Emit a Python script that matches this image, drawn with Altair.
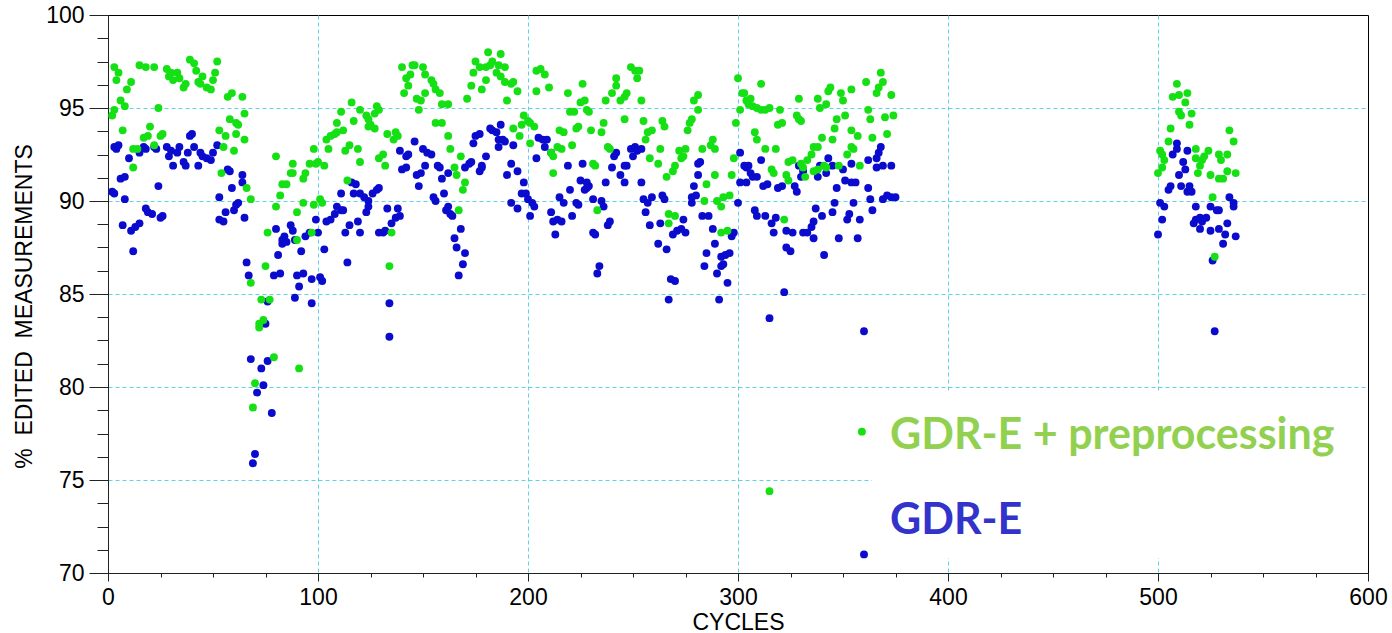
import altair as alt
import pandas as pd

series_names = ["GDR-E + preprocessing", "GDR-E"]

green_points = [
    (2, 94.6), (3, 94.9), (3, 97.2), (4, 96.5), (5, 96.9), (6, 95.4), (7, 93.8), (8, 95.1), (9, 96.0), (11, 96.4),
    (12, 92.8), (12, 91.8), (14, 92.8), (15, 97.3), (17, 93.4), (18, 97.2), (19, 93.5), (20, 94.0), (22, 93.0), (22, 97.2),
    (24, 95.0), (25, 93.5), (26, 93.6), (28, 97.1), (29, 96.7), (30, 96.9), (31, 96.5), (33, 96.9), (34, 96.6), (36, 96.1),
    (37, 96.3), (39, 97.6), (41, 97.4), (42, 97.0), (43, 96.4), (44, 96.3), (45, 96.7), (47, 96.1), (49, 96.0), (50, 96.5),
    (51, 96.9), (52, 97.5), (53, 93.8), (54, 91.5), (55, 92.9), (56, 93.5), (57, 95.6), (58, 94.4), (59, 95.8), (60, 92.7),
    (61, 94.2), (61, 93.6), (62, 94.1), (64, 95.6), (65, 94.7), (65, 93.3), (66, 90.7), (68, 90.1), (68, 85.6), (69, 78.9),
    (70, 80.2), (72, 83.2), (72, 83.4), (73, 84.7), (74, 83.6), (75, 86.5), (76, 88.3), (77, 84.7), (79, 81.6), (80, 92.4),
    (80, 89.7), (82, 90.3), (83, 90.9), (85, 90.9), (87, 91.5), (88, 92.0), (88, 91.5), (90, 87.9), (90, 89.4), (91, 81.0),
    (93, 91.2), (93, 89.9), (94, 91.5), (96, 92.0), (97, 88.3), (98, 92.8), (98, 89.8), (99, 92.0), (100, 92.1), (101, 90.1),
    (102, 89.9), (103, 91.9), (104, 93.3), (105, 92.8), (106, 93.5), (108, 93.6), (109, 94.2), (109, 93.7), (111, 94.8), (112, 93.8),
    (113, 92.7), (114, 91.1), (115, 93.0), (116, 95.3), (117, 94.3), (119, 92.8), (120, 92.1), (120, 94.9), (123, 94.6), (124, 94.0),
    (124, 94.4), (125, 94.1), (127, 93.9), (127, 94.7), (128, 95.1), (129, 94.9), (129, 92.3), (131, 92.5), (132, 91.9), (133, 93.6),
    (134, 86.5), (135, 88.3), (136, 93.3), (137, 93.7), (138, 93.5), (140, 97.2), (141, 95.8), (142, 96.6), (143, 96.2), (144, 96.8),
    (145, 97.3), (146, 97.3), (147, 95.5), (148, 94.9), (149, 95.4), (150, 97.2), (151, 96.8), (151, 95.8), (154, 96.5), (155, 96.3),
    (156, 96.0), (156, 94.2), (158, 95.8), (159, 95.2), (159, 94.2), (162, 95.2), (162, 93.5), (163, 92.8), (165, 91.8), (166, 91.4),
    (167, 89.5), (168, 92.4), (169, 90.6), (170, 91.0), (171, 95.5), (173, 96.2), (174, 96.9), (175, 97.5), (177, 97.2), (178, 96.0),
    (180, 96.5), (180, 97.2), (181, 98.0), (182, 97.3), (183, 97.5), (185, 96.9), (186, 97.3), (187, 97.9), (187, 96.7), (189, 97.2),
    (189, 96.4), (190, 95.4), (192, 96.3), (193, 96.4), (195, 95.9), (193, 93.9), (196, 93.5), (197, 94.1), (198, 94.6), (200, 94.3),
    (201, 94.2), (201, 93.1), (203, 94.0), (204, 97.0), (204, 95.9), (206, 97.1), (208, 96.8), (210, 96.1), (211, 92.6), (212, 92.4),
    (212, 91.5), (214, 92.9), (215, 93.8), (216, 92.8), (217, 93.7), (219, 95.8), (220, 94.8), (221, 93.0), (222, 94.8), (223, 93.9),
    (224, 94.0), (225, 95.3), (226, 96.3), (227, 95.4), (228, 94.9), (229, 94.8), (230, 93.8), (231, 92.0), (232, 91.9), (233, 89.5),
    (235, 93.7), (236, 94.2), (237, 95.4), (238, 92.9), (239, 92.8), (240, 95.8), (242, 96.2), (242, 96.6), (244, 95.4), (246, 95.6),
    (246, 94.4), (247, 95.8), (249, 97.2), (251, 97.0), (252, 96.6), (253, 97.0), (254, 95.4), (255, 94.3), (256, 93.3), (257, 93.7),
    (258, 92.3), (259, 93.8), (262, 92.0), (263, 92.8), (264, 94.3), (265, 94.0), (266, 91.3), (267, 89.3), (267, 88.8), (269, 91.6),
    (270, 89.2), (270, 91.9), (272, 92.7), (273, 92.3), (274, 92.4), (275, 92.8), (276, 93.8), (277, 94.2), (278, 94.4), (279, 95.4),
    (281, 95.7), (281, 94.9), (283, 92.8), (284, 90.0), (285, 90.9), (287, 93.0), (288, 93.3), (289, 92.8), (289, 91.4), (290, 90.0),
    (292, 89.7), (292, 88.3), (293, 90.2), (295, 88.4), (296, 90.3), (297, 91.4), (298, 92.3), (299, 94.2), (300, 96.6), (301, 94.9),
    (302, 95.8), (303, 95.8), (304, 95.4), (305, 95.2), (306, 95.5), (307, 95.1), (308, 93.7), (309, 93.3), (309, 95.0), (311, 94.9),
    (311, 96.3), (313, 94.9), (313, 92.8), (315, 95.0), (315, 74.4), (316, 91.7), (317, 91.5), (318, 92.8), (319, 94.1), (320, 94.9),
    (321, 94.2), (322, 89.0), (323, 91.4), (324, 91.1), (324, 92.1), (326, 92.2), (328, 94.6), (329, 94.4), (329, 95.5), (330, 94.3),
    (330, 92.0), (331, 91.8), (332, 91.3), (333, 92.2), (335, 92.5), (336, 92.9), (336, 91.6), (338, 92.9), (338, 91.7), (338, 95.5),
    (339, 95.0), (340, 93.4), (341, 91.9), (342, 91.8), (342, 95.2), (343, 95.9), (344, 96.1), (345, 93.3), (346, 93.9), (347, 94.4),
    (348, 91.9), (349, 95.8), (350, 95.4), (351, 94.6), (352, 92.5), (354, 92.9), (354, 93.8), (354, 96.0), (355, 92.8), (357, 93.5),
    (358, 91.9), (359, 77.6), (361, 96.4), (362, 94.9), (363, 94.4), (364, 93.4), (366, 95.8), (367, 96.1), (368, 96.9), (369, 96.4),
    (370, 94.5), (371, 93.6), (373, 95.7), (374, 94.6),
    (500, 91.5), (501, 92.7), (502, 91.8), (502, 92.5), (503, 92.2), (505, 93.2), (506, 93.9), (507, 95.6), (509, 96.3), (510, 95.7),
    (510, 94.8), (511, 94.6), (513, 95.3), (514, 95.8), (515, 94.1), (516, 94.7), (518, 92.3), (518, 92.8), (519, 91.5), (520, 91.9),
    (521, 92.2), (522, 92.4), (524, 92.7), (525, 91.4), (526, 90.2), (527, 87.0), (529, 92.5), (529, 91.2), (530, 92.2), (531, 91.2),
    (533, 91.6), (533, 92.5), (534, 93.8), (536, 93.2), (537, 91.5),
]

blue_points = [
    (2, 90.5), (3, 90.4), (3, 92.9), (4, 92.8), (5, 93.0), (6, 91.2), (7, 88.7), (8, 91.3), (8, 90.1), (10, 92.3),
    (11, 88.4), (12, 87.3), (13, 88.6), (15, 88.8), (15, 92.6), (17, 92.9), (18, 89.6), (18, 92.8), (19, 89.4), (21, 89.3),
    (22, 92.9), (23, 92.8), (24, 90.8), (25, 89.1), (26, 89.2), (28, 92.9), (29, 92.4), (30, 92.7), (31, 91.9), (33, 92.6),
    (34, 92.9), (36, 92.1), (37, 91.9), (38, 92.6), (39, 93.5), (40, 93.6), (41, 92.9), (43, 91.9), (44, 92.6), (45, 92.4),
    (47, 92.3), (49, 92.2), (50, 92.6), (52, 93.0), (53, 90.2), (53, 89.0), (55, 88.9), (56, 89.4), (57, 91.7), (58, 91.6),
    (59, 90.7), (60, 89.5), (61, 89.8), (62, 89.9), (64, 91.4), (64, 91.0), (65, 89.1), (66, 86.7), (67, 86.0), (68, 81.5),
    (69, 75.9), (70, 76.4), (71, 79.7), (73, 81.0), (74, 80.1), (75, 83.4), (76, 81.4), (76, 84.6), (78, 78.6), (79, 86.0),
    (80, 88.5), (81, 87.1), (82, 86.1), (83, 87.9), (83, 87.7), (84, 88.1), (85, 87.8), (87, 88.7), (88, 88.4), (89, 87.9),
    (89, 84.8), (90, 86.0), (91, 85.4), (92, 87.3), (93, 86.1), (94, 88.1), (96, 88.3), (97, 84.5), (97, 85.8), (99, 89.0),
    (100, 88.3), (101, 85.9), (102, 85.7), (103, 87.4), (104, 88.9), (106, 89.0), (108, 89.3), (109, 89.7), (111, 89.5), (111, 90.4),
    (112, 89.5), (113, 88.3), (114, 86.7), (115, 88.7), (116, 91.0), (117, 90.4), (118, 90.9), (119, 88.9), (120, 88.3), (120, 90.4),
    (122, 90.2), (123, 89.4), (124, 90.0), (124, 89.7), (126, 90.4), (128, 90.6), (129, 90.7), (129, 88.3), (131, 88.3), (132, 88.4),
    (133, 89.6), (134, 84.5), (134, 82.7), (135, 88.8), (137, 89.1), (138, 89.6), (139, 89.2), (139, 92.7), (140, 91.7), (142, 92.4),
    (142, 91.8), (143, 92.5), (146, 93.2), (147, 91.4), (148, 90.8), (149, 91.5), (150, 92.8), (151, 91.9), (152, 92.6), (154, 92.5),
    (155, 90.2), (156, 90.0), (157, 91.9), (158, 91.8), (159, 91.2), (160, 90.4), (161, 89.5), (162, 91.5), (162, 89.7), (163, 89.3),
    (164, 89.2), (165, 88.0), (166, 87.5), (167, 86.0), (168, 88.5), (169, 86.6), (170, 87.2), (170, 91.8), (172, 92.0), (173, 92.1),
    (174, 93.1), (175, 93.5), (177, 93.6), (177, 91.6), (178, 91.8), (178, 91.9), (180, 92.4), (182, 93.9), (183, 93.8), (185, 93.7),
    (186, 93.3), (186, 92.9), (187, 94.1), (188, 93.3), (189, 93.2), (190, 91.4), (192, 92.0), (192, 89.9), (193, 93.0), (195, 91.6),
    (195, 89.6), (197, 90.4), (198, 91.0), (199, 90.4), (200, 90.1), (201, 89.2), (202, 89.9), (203, 89.7), (204, 92.3), (205, 93.4),
    (207, 93.3), (208, 92.9), (209, 93.3), (211, 92.6), (211, 89.4), (212, 88.9), (213, 88.2), (214, 89.0), (215, 90.2), (216, 88.9),
    (217, 89.9), (219, 91.9), (220, 90.6), (221, 89.2), (223, 89.9), (224, 89.8), (225, 91.1), (226, 92.0), (227, 90.6), (228, 91.0),
    (228, 90.7), (229, 90.8), (231, 90.1), (231, 88.3), (232, 88.2), (233, 86.1), (234, 86.5), (235, 90.0), (236, 89.7), (237, 91.0),
    (238, 88.7), (239, 88.9), (240, 91.8), (241, 92.4), (242, 92.6), (244, 91.4), (246, 91.9), (246, 91.0), (247, 91.9), (249, 92.8),
    (250, 92.4), (251, 92.9), (252, 92.7), (254, 92.8), (254, 91.0), (255, 90.1), (256, 89.4), (257, 89.9), (258, 88.7), (259, 90.2),
    (262, 87.7), (263, 88.8), (264, 90.3), (265, 90.1), (266, 87.4), (267, 84.7), (268, 85.8), (269, 88.2), (270, 85.7), (271, 88.4),
    (273, 88.5), (274, 89.0), (275, 88.3), (278, 89.9), (278, 90.2), (279, 90.8), (280, 90.3), (281, 91.4), (281, 92.0), (282, 92.1),
    (283, 89.2), (284, 86.5), (285, 87.2), (286, 89.2), (288, 88.5), (289, 87.7), (290, 86.1), (291, 84.7), (292, 86.5), (292, 87.0),
    (293, 86.6), (294, 87.1), (295, 85.6), (296, 87.2), (297, 88.1), (298, 88.3), (300, 89.9), (301, 92.6), (301, 91.0), (303, 91.9),
    (304, 91.8), (304, 91.0), (305, 91.9), (306, 91.5), (307, 91.3), (308, 89.5), (309, 91.3), (309, 89.2), (311, 92.2), (312, 90.8),
    (313, 89.2), (314, 90.9), (315, 83.7), (316, 88.8), (317, 88.3), (318, 89.1), (319, 90.7), (321, 90.8), (322, 85.1), (323, 88.4),
    (323, 87.5), (325, 87.3), (326, 88.3), (327, 90.8), (328, 90.5), (329, 91.9), (330, 91.3), (331, 91.6), (331, 88.3), (333, 88.3),
    (335, 88.6), (336, 88.9), (336, 88.0), (337, 89.6), (338, 91.3), (339, 91.9), (340, 89.2), (341, 87.1), (342, 91.5), (343, 92.3),
    (345, 91.9), (345, 89.4), (346, 89.9), (347, 90.7), (348, 88.0), (350, 91.7), (351, 91.1), (352, 89.0), (353, 89.3), (354, 91.0),
    (354, 92.0), (355, 89.9), (356, 91.0), (357, 88.0), (358, 89.0), (360, 83.0), (360, 71.0), (362, 92.2), (362, 90.7), (363, 90.1),
    (364, 89.5), (366, 91.8), (366, 92.3), (367, 92.6), (368, 92.9), (369, 90.1), (369, 91.9), (371, 90.3), (373, 90.2), (373, 91.9),
    (375, 90.2),
    (500, 88.2), (501, 89.9), (502, 89.0), (503, 89.7), (505, 90.6), (506, 90.8), (507, 92.5), (509, 92.8), (509, 93.1), (510, 91.4),
    (511, 90.8), (512, 92.1), (513, 91.7), (514, 90.5), (514, 92.7), (515, 90.8), (516, 90.5), (517, 88.8), (518, 89.7), (518, 89.0),
    (520, 89.1), (520, 88.5), (521, 88.9), (523, 89.1), (525, 89.7), (525, 88.4), (526, 86.8), (527, 83.0), (528, 89.5), (529, 88.5),
    (529, 89.5), (531, 87.7), (532, 88.2), (533, 88.8), (534, 90.2), (536, 89.9), (536, 89.7), (537, 88.1),
]

GREEN = "#14e014"
BLUE = "#0b0bcd"
GRID = "#5ed3e6"
AXIS = "#222222"
FONT = "Liberation Sans"

green_df = pd.DataFrame(green_points, columns=["cycle", "value"])
blue_df = pd.DataFrame(blue_points, columns=["cycle", "value"])

xs = alt.Scale(domain=[0, 600], nice=False, zero=False)
ys = alt.Scale(domain=[70, 100], nice=False, zero=False)

common = dict(labelFont=FONT, labelFontSize=23, labelColor="black", titleFont=FONT,
              titleFontSize=23, titleColor="black", titleFontWeight="normal",
              domainColor=AXIS, tickColor=AXIS, labelFlush=False, labelOverlap=False)

x_major = alt.Axis(
    values=list(range(0, 601, 100)), tickSize=8, labelPadding=5, format="d",
    grid=True, gridColor=GRID, gridDash=[4, 3], gridWidth=1,
    gridOpacity={"condition": {"test": "datum.value == 0 || datum.value == 600", "value": 0}, "value": 1},
    title="CYCLES", titleY=56, titleBaseline="alphabetic", orient="bottom", **common)
y_major = alt.Axis(
    values=list(range(70, 101, 5)), tickSize=19, labelPadding=5, format="d",
    grid=True, gridColor=GRID, gridDash=[4, 3], gridWidth=1,
    gridOpacity={"condition": {"test": "datum.value == 70 || datum.value == 100", "value": 0}, "value": 1},
    title="%\u00a0\u00a0EDITED\u00a0\u00a0MEASUREMENTS", titleX=-84, titleY=291, titleAngle=270,
    titleAlign="center", titleBaseline="middle", orient="left", **common)
x_minor = alt.Axis(values=list(range(0, 601, 25)), tickSize=4, labels=False, domain=False,
                   grid=False, title="", orient="bottom", tickColor=AXIS)
y_minor = alt.Axis(values=[70 + 1.25 * i for i in range(25)], tickSize=11, labels=False, domain=False,
                   grid=False, title="", orient="left", tickColor=AXIS)

box = alt.Chart(pd.DataFrame({"k": [0]})).mark_rect(color="white").encode(
    x=alt.value(764), x2=alt.value(1258), y=alt.value(376), y2=alt.value(543))

blue_layer = alt.Chart(blue_df).mark_circle(color=BLUE, size=62, opacity=1).encode(
    x=alt.X("cycle:Q", scale=xs, axis=x_major),
    y=alt.Y("value:Q", scale=ys, axis=y_major))

green_layer = alt.Chart(green_df).mark_circle(color=GREEN, size=62, opacity=1).encode(
    x=alt.X("cycle:Q", scale=xs, axis=x_minor),
    y=alt.Y("value:Q", scale=ys, axis=y_minor))

txt_green = alt.Chart(pd.DataFrame({"label": [series_names[0]]})).mark_text(
    align="left", baseline="alphabetic", font="Lato", fontWeight="bold", fontSize=43, color="#92d050"
).encode(text="label:N", x=alt.value(782), y=alt.value(434))

txt_blue = alt.Chart(pd.DataFrame({"label": [series_names[1]]})).mark_text(
    align="left", baseline="alphabetic", font="Lato", fontWeight="bold", fontSize=43, color="#3333cc"
).encode(text="label:N", x=alt.value(782), y=alt.value(519))

chart = alt.layer(box, blue_layer, green_layer, txt_green, txt_blue).resolve_axis(
    x="independent", y="independent"
).properties(
    width=1260, height=558,
    padding={"left": 108, "top": 15, "right": 24, "bottom": 60},
    autosize=alt.AutoSizeParams(type="none"),
    background="white",
).configure_view(stroke="black", strokeWidth=1)

chart.save("out.html", embed_options={"renderer": "svg", "actions": False})
